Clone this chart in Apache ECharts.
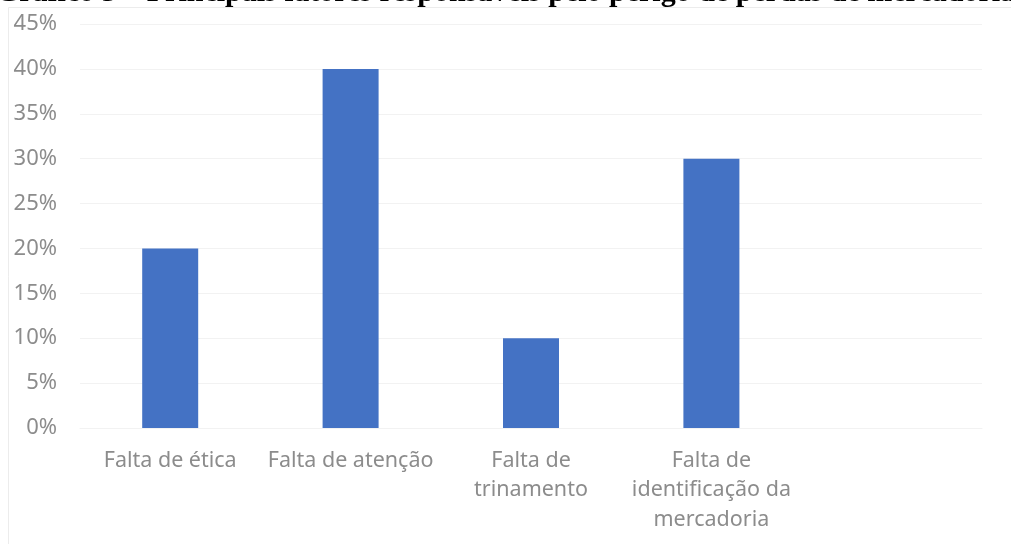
<!DOCTYPE html>
<html>
<head>
<meta charset="utf-8">
<script src="https://cdn.jsdelivr.net/npm/echarts@6/dist/echarts.min.js"></script>
<style>
html, body { margin: 0; padding: 0; background: #fff; }
#box1 { width: 1011px; height: 544px; }
</style>
</head>
<body>
<div id="box1"></div>
<script>
var categories = ['Falta de ética', 'Falta de atenção', 'Falta de\ntrinamento', 'Falta de\nidentificação da\nmercadoria', ''];
var values = [20, 40, 10, 30, null];
var yTicks = { min: 0, max: 45, interval: 5 };

var myChart = echarts.init(document.getElementById('box1'));

var option = {
    backgroundColor: '#fff',
    animation: false,
    title: {
        text: 'Gráfico 3 – Principais fatores responsáveis pelo perigo de perdas de mercadoria',
        left: 'center',
        top: -22,
        padding: 0,
        textStyle: {
            fontFamily: 'Liberation Serif',
            fontWeight: 'bold',
            fontSize: 30,
            lineHeight: 30,
            color: '#000'
        }
    },
    graphic: [{
        type: 'rect',
        shape: { x: 8.5, y: 7.5, width: 1010, height: 540 },
        style: { fill: 'none', stroke: '#ececec', lineWidth: 1 },
        silent: true
    }],
    grid: {
        left: 80,
        right: 29,
        top: 24,
        bottom: 116,
        containLabel: false
    },
    xAxis: {
        type: 'category',
        data: categories,
        axisLine: { show: true, lineStyle: { color: '#f2f2f2', width: 1 } },
        axisTick: { show: false },
        axisLabel: {
            interval: 0,
            margin: 18,
            color: '#8c8c8c',
            fontFamily: 'Noto Sans',
            fontSize: 21.5,
            lineHeight: 29.5
        }
    },
    yAxis: {
        type: 'value',
        min: yTicks.min,
        max: yTicks.max,
        interval: yTicks.interval,
        axisLine: { show: false },
        axisTick: { show: false },
        splitLine: { lineStyle: { color: '#f2f2f2', width: 1 } },
        axisLabel: {
            margin: 23,
            color: '#8c8c8c',
            fontFamily: 'Noto Sans',
            fontSize: 22,
            formatter: '{value}%'
        }
    },
    series: [{
        type: 'bar',
        data: values,
        barWidth: 56,
        itemStyle: { color: '#4472C4' }
    }]
};

myChart.setOption(option);
</script>
</body>
</html>
